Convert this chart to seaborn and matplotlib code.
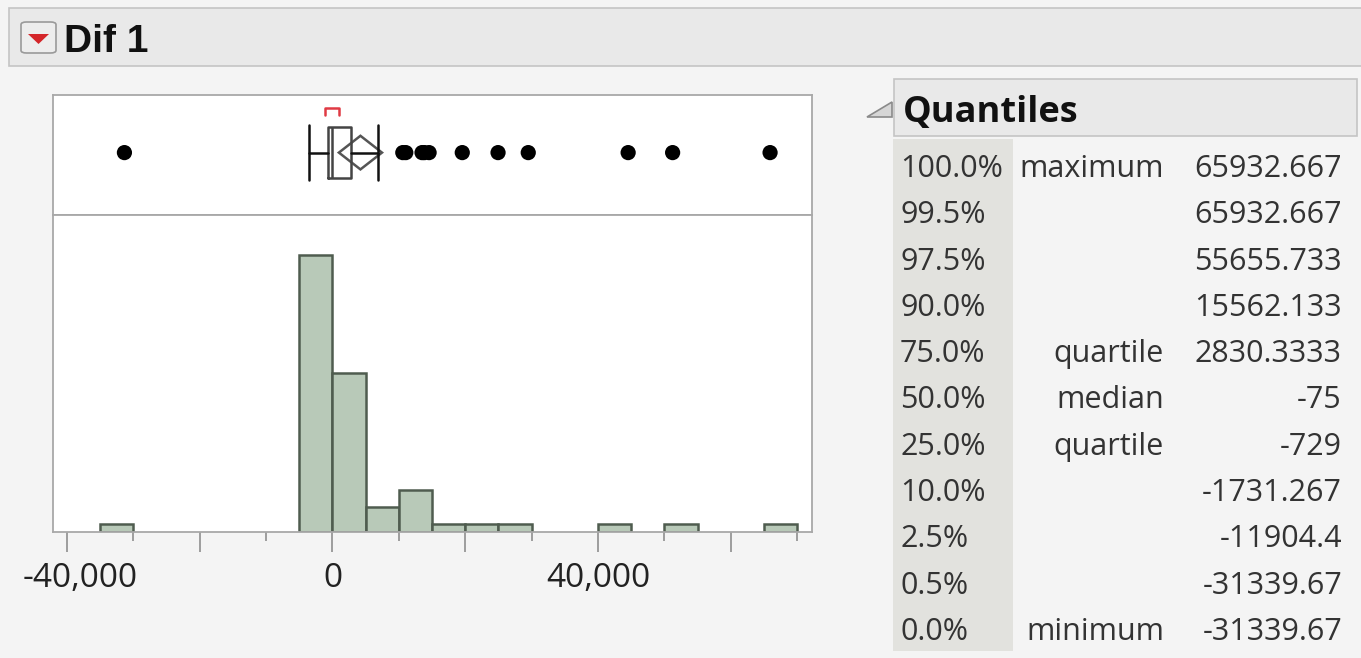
import numpy as np
import pandas as pd
import matplotlib
matplotlib.use("Agg")
import matplotlib.pyplot as plt
import matplotlib.transforms as mtransforms
from matplotlib.patches import Rectangle, Polygon, FancyBboxPatch
import seaborn as sns

# ---------------- data ----------------
dif1 = [
    -31339.67, -3575, -3100, -2500, -2050, -1795, -1715.33,
    -1600, -1480, -1350, -1240, -1130, -1040, -950, -870, -800, -729,
    -690, -650, -610, -570, -530, -490, -450, -410, -370, -330, -290,
    -250, -210, -170, -130, -100, -75,
    50, 150, 280, 400, 520, 650, 780, 900, 1050, 1200, 1400, 1600,
    1850, 2100, 2400, 2650, 2830.3333, 3300, 4100,
    5500, 6300, 6930,
    10600, 11050, 13500, 13850, 14562.67,
    19560, 24950, 29500,
    44550, 51251.33, 65932.667,
]
quant_pcts = ["100.0%", "99.5%", "97.5%", "90.0%", "75.0%", "50.0%",
              "25.0%", "10.0%", "2.5%", "0.5%", "0.0%"]
quant_names = ["maximum", "", "", "", "quartile", "median", "quartile",
               "", "", "", "minimum"]
quant_values = [65932.667, 65932.667, 55655.733, 15562.133, 2830.3333,
                -75, -729, -1731.267, -11904.4, -31339.67, -31339.67]
shortest_half = [-1150, 1000]
tick_major = [-40000, -20000, 0, 20000, 40000, 60000]
tick_minor = [-30000, -10000, 10000, 30000, 50000, 70000]
tick_labels = {-40000: "-40,000", 0: "0", 40000: "40,000"}
title = "Dif 1"
panel_title = "Quantiles"

# ---------------- figure ----------------
sns.set_theme(style="white")
plt.rcParams["font.family"] = ["Open Sans", "DejaVu Sans"]

W, H = 1361, 658
fig = plt.figure(figsize=(W / 100, H / 100), dpi=100, facecolor="#f4f4f4")


def fx(px):
    return px / W


def fy(py):
    return 1 - py / H


def frect(x0, y0, x1, y1, **kw):
    r = Rectangle((fx(x0), fy(y1)), fx(x1) - fx(x0), fy(y0) - fy(y1),
                  transform=fig.transFigure, **kw)
    fig.add_artist(r)
    return r


# header bar
frect(9, 8, 1375, 66, facecolor="#e9e9e9", edgecolor="#c4c4c4", lw=1.2)
btn = FancyBboxPatch((fx(21), fy(53)), fx(56) - fx(21), fy(22) - fy(53),
                     boxstyle="round,pad=0,rounding_size=0.004",
                     transform=fig.transFigure, facecolor="#ededed",
                     edgecolor="#9a9a9a", lw=1.2)
fig.add_artist(btn)
fig.add_artist(Polygon([(fx(28), fy(34)), (fx(49), fy(34)), (fx(38.5), fy(44))],
                       closed=True, transform=fig.transFigure,
                       facecolor="#d4262a", edgecolor="none"))
fig.text(fx(64), fy(52), title, family=["Liberation Sans", "DejaVu Sans"],
         fontweight="bold", fontsize=28, color="#111111", va="baseline", ha="left")

# ---------------- plot panel ----------------
x_left, x_right = 53, 812
xlim = (-42100, 72250)
ax_box = fig.add_axes([fx(x_left), fy(215), fx(x_right) - fx(x_left), fy(95) - fy(215)])
ax_hist = fig.add_axes([fx(x_left), fy(532), fx(x_right) - fx(x_left), fy(215) - fy(532)])

for ax in (ax_box, ax_hist):
    ax.set_facecolor("white")
    ax.set_xlim(*xlim)
    for sp in ax.spines.values():
        sp.set_color("#a8a8a8")
        sp.set_linewidth(1.3)
    ax.set_ylabel("")
    ax.set_yticks([])

# histogram
df = pd.DataFrame({"Dif 1": dif1})
sns.histplot(data=df, x="Dif 1", binwidth=5000, binrange=(-35000, 70000),
             ax=ax_hist, color="#b8c9b8", edgecolor="#4f5c4f", linewidth=1.8,
             alpha=1.0)
for p in ax_hist.patches:
    if p.get_height() == 0:
        p.set_visible(False)
ax_hist.set_ylim(0, 37.8)
ax_hist.set_xlim(*xlim)
ax_hist.set_ylabel("")
ax_hist.set_xlabel("")
ax_hist.set_xticks(tick_major)
ax_hist.set_xticks(tick_minor, minor=True)
ax_hist.set_xticklabels([])
ax_hist.tick_params(axis="x", which="major", length=14.5, width=1.2,
                    color="#8e8e8e", bottom=True, direction="out")
ax_hist.tick_params(axis="x", which="minor", length=6.5, width=1.2,
                    color="#8e8e8e", bottom=True, direction="out")
blend = mtransforms.blended_transform_factory(ax_hist.transData, fig.transFigure)
for v, lab in tick_labels.items():
    tr = blend
    if v == -40000:  # leftmost label is nudged inward, as in the original
        tr = mtransforms.offset_copy(blend, fig=fig, x=13, y=0, units="dots")
    ax_hist.text(v, fy(587), lab, transform=tr, ha="center", va="baseline",
                 fontsize=24, color="#222222")

# box plot section
vals = np.array(dif1)
q1, med, q3 = quant_values[6], quant_values[5], quant_values[4]
iqr = q3 - q1
lo_f, hi_f = q1 - 1.5 * iqr, q3 + 1.5 * iqr
whislo = vals[vals >= lo_f].min()
whishi = vals[vals <= hi_f].max()
outliers = vals[(vals < lo_f) | (vals > hi_f)]

yc = 0.52
stats = [dict(med=med, q1=q1, q3=q3, whislo=whislo, whishi=whishi, fliers=[], label="")]
ax_box.bxp(stats, positions=[yc], widths=0.43, orientation="horizontal",
           showfliers=False, manage_ticks=False, capwidths=0.46,
           boxprops=dict(color="#444444", lw=1.8),
           medianprops=dict(color="#444444", lw=1.8),
           whiskerprops=dict(color="#111111", lw=1.8),
           capprops=dict(color="#111111", lw=1.8))

# mean diamond (95% CI of the mean)
mean = vals.mean()
ci = 1.9966 * vals.std(ddof=1) / np.sqrt(len(vals))
dh = 0.14
ax_box.fill([mean - ci, mean, mean + ci, mean, mean - ci],
            [yc, yc + dh, yc, yc - dh, yc], facecolor="none",
            edgecolor="#555555", lw=1.8)

# shortest half bracket
a, b = shortest_half
ax_box.plot([a, a, b, b], [0.835, 0.895, 0.895, 0.835], color="#e03a44", lw=1.8)

sns.scatterplot(x=outliers, y=np.full(len(outliers), yc), ax=ax_box,
                color="black", s=120, edgecolor="none", zorder=5)
ax_box.set_ylim(0, 1)
ax_box.set_xlim(*xlim)
ax_box.set_xticks([])
ax_box.set_yticks([])

# ---------------- quantiles table ----------------
frect(894, 79, 1357, 136, facecolor="#e9e9e9", edgecolor="#c4c4c4", lw=1.2)
fig.add_artist(Polygon([(fx(867), fy(117)), (fx(892), fy(117)), (fx(892), fy(102))],
                       closed=True, transform=fig.transFigure,
                       facecolor="#d6d6d6", edgecolor="#8a8a8a", lw=1.2))
fig.text(fx(903), fy(122), panel_title, fontweight="bold", fontsize=26,
         color="#111111", va="baseline", ha="left")
frect(893, 139, 1013, 651, facecolor="#e2e2de", edgecolor="none")

row0, dy = 177, 46.3
for i, (p, n, v) in enumerate(zip(quant_pcts, quant_names, quant_values)):
    yb = fy(row0 + i * dy)
    fig.text(fx(900), yb, p, fontsize=22, color="#333333", ha="left", va="baseline")
    if n:
        fig.text(fx(1164), yb, n, fontsize=22, color="#333333", ha="right", va="baseline")
    fig.text(fx(1342), yb, format(v, ".8g"), fontsize=22, color="#333333",
             ha="right", va="baseline")

fig.savefig("out.png", dpi=100, facecolor=fig.get_facecolor())
